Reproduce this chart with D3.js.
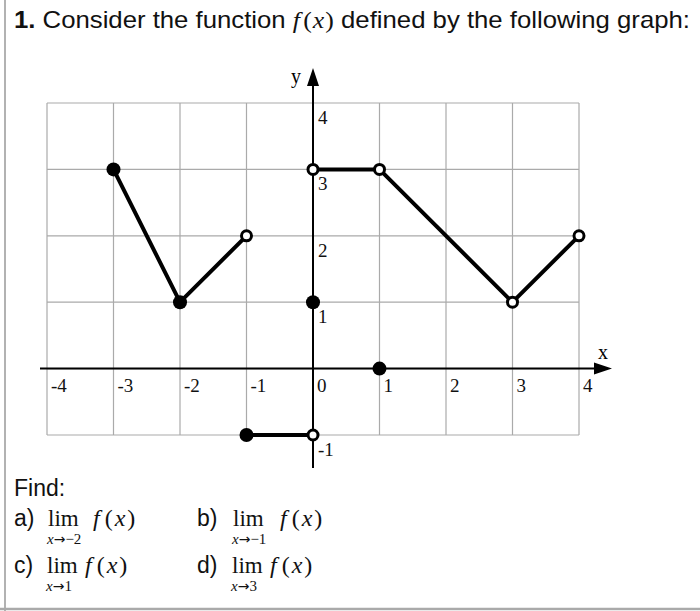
<!DOCTYPE html>
<html><head><meta charset="utf-8">
<script src="https://cdn.jsdelivr.net/npm/d3@7"></script>
<style>body{margin:0;background:#fff}svg{display:block}</style>
</head><body>
<svg id="c" width="700" height="611"></svg>
<script>
const xTicks = [-4,-3,-2,-1,0,1,2,3,4];
const yTicks = [-1,1,2,3,4];
const segments = [
  [[-3,3],[-2,1],[-1,2]],
  [[-1,-1],[0,-1]],
  [[0,3],[1,3],[3,1],[4,2]]
];
const filledPts = [[-3,3],[-2,1],[0,1],[1,0],[-1,-1]];
const openPts = [[-1,2],[0,3],[1,3],[3,1],[4,2],[0,-1]];
const questions = [
  {label:"a)", sub:"\u2192\u22122"},
  {label:"b)", sub:"\u2192\u22121"},
  {label:"c)", sub:"\u21921"},
  {label:"d)", sub:"\u21923"}
];

const svg = d3.select("#c");
const x = d3.scaleLinear().domain([-4,4]).range([47,579]);
const y = d3.scaleLinear().domain([-1,4]).range([435,103]);
const sans = "Liberation Sans, Arial, sans-serif";
const serif = "Liberation Serif, Times New Roman, serif";

// page frame
svg.append("line").attr("x1",5).attr("x2",5).attr("y1",0).attr("y2",611).attr("stroke","#999").attr("stroke-width",1.5);
svg.append("line").attr("x1",0).attr("x2",700).attr("y1",609).attr("y2",609).attr("stroke","#aaa").attr("stroke-width",2.5);

// title
const t = svg.append("text").attr("x",14).attr("y",28).attr("font-family",sans).attr("font-size",24).attr("fill","#111")
  .attr("textLength",676).attr("lengthAdjust","spacingAndGlyphs");
t.append("tspan").attr("font-weight","bold").text("1.");
t.append("tspan").text(" Consider the function ");
t.append("tspan").attr("font-family",serif).attr("font-style","italic").text("f");
t.append("tspan").attr("font-family",serif).attr("dx",3).text("(");
t.append("tspan").attr("font-family",serif).attr("font-style","italic").attr("dx",1).text("x");
t.append("tspan").attr("font-family",serif).attr("dx",1).text(")");
t.append("tspan").text(" defined by the following graph:");

// grid
const g = svg.append("g");
g.selectAll("line.gx").data(xTicks).join("line").attr("class","gx")
  .attr("x1",d=>x(d)).attr("x2",d=>x(d)).attr("y1",y(4)).attr("y2",y(-1))
  .attr("stroke","#aaa").attr("stroke-width",1.2);
g.selectAll("line.gy").data([-1,0,1,2,3,4]).join("line").attr("class","gy")
  .attr("x1",x(-4)).attr("x2",x(4)).attr("y1",d=>y(d)).attr("y2",d=>y(d))
  .attr("stroke","#aaa").attr("stroke-width",1.2);

// axes
const ax = svg.append("g");
ax.append("line").attr("x1",40).attr("x2",600).attr("y1",y(0)).attr("y2",y(0)).attr("stroke","#000").attr("stroke-width",2);
ax.append("path").attr("d",`M612,${y(0)}L594,${y(0)-6}L594,${y(0)+6}Z`).attr("fill","#000");
ax.append("line").attr("x1",x(0)).attr("x2",x(0)).attr("y1",468).attr("y2",80).attr("stroke","#000").attr("stroke-width",2);
ax.append("path").attr("d",`M${x(0)},68L${x(0)-6},86L${x(0)+6},86Z`).attr("fill","#000");

ax.append("text").attr("x",603).attr("y",359).attr("font-family",serif).attr("font-size",20).attr("text-anchor","middle").text("x");
ax.append("text").attr("x",296).attr("y",83).attr("font-family",serif).attr("font-size",20).attr("text-anchor","middle").text("y");

ax.selectAll("text.xt").data(xTicks).join("text").attr("class","xt")
  .attr("x",d=>x(d)+4).attr("y",y(0)+23).attr("font-family",serif).attr("font-size",19).attr("fill","#111")
  .text(d=>d===0?"0":d<0?"-"+(-d):d);
ax.selectAll("text.yt").data(yTicks).join("text").attr("class","yt")
  .attr("x",x(0)+5).attr("y",d=>y(d)+21).attr("font-family",serif).attr("font-size",19).attr("fill","#111")
  .text(d=>d<0?"-"+(-d):d);

// curve
const line = d3.line().x(d=>x(d[0])).y(d=>y(d[1]));
svg.append("g").selectAll("path").data(segments).join("path")
  .attr("d",line).attr("fill","none").attr("stroke","#000").attr("stroke-width",4).attr("stroke-linejoin","round");

svg.append("g").selectAll("circle").data(filledPts).join("circle")
  .attr("cx",d=>x(d[0])).attr("cy",d=>y(d[1])).attr("r",7).attr("fill","#000");
svg.append("g").selectAll("circle").data(openPts).join("circle")
  .attr("cx",d=>x(d[0])).attr("cy",d=>y(d[1])).attr("r",5).attr("fill","#fff").attr("stroke","#000").attr("stroke-width",3);

// Find
svg.append("text").attr("x",14).attr("y",496).attr("font-family",sans).attr("font-size",23).attr("fill","#111").text("Find:");
const pos = [[14,526],[197,526],[14,573],[197,573]];
const limX = [34,36,33,35];
const fX = [79,83,71,73];
const q = svg.append("g").selectAll("g").data(questions).join("g")
  .attr("transform",(d,i)=>`translate(${pos[i][0]},${pos[i][1]})`);
q.append("text").attr("font-family",sans).attr("font-size",23).attr("fill","#111").text(d=>d.label);
q.append("text").attr("x",(d,i)=>limX[i]).attr("font-family",serif).attr("font-size",23).attr("fill","#111").text("lim");
q.append("text").attr("x",(d,i)=>limX[i]-1).attr("y",18).attr("font-family",serif).attr("font-size",15).attr("fill","#111")
  .each(function(d){
    const s=d3.select(this);
    s.append("tspan").attr("font-style","italic").text("x");
    s.append("tspan").attr("font-family","DejaVu Sans").attr("font-size",14).attr("dx",0).text(d.sub.slice(0,1));
    s.append("tspan").text(d.sub.slice(1));
  });
q.append("text").attr("x",(d,i)=>fX[i]).attr("font-family",serif).attr("font-size",24).attr("fill","#111")
  .each(function(){
    const s=d3.select(this);
    s.append("tspan").attr("font-style","italic").text("f");
    s.append("tspan").attr("dx",5).text("(");
    s.append("tspan").attr("dx",2).attr("font-style","italic").text("x");
    s.append("tspan").attr("dx",2).text(")");
  });
</script>
</body></html>
